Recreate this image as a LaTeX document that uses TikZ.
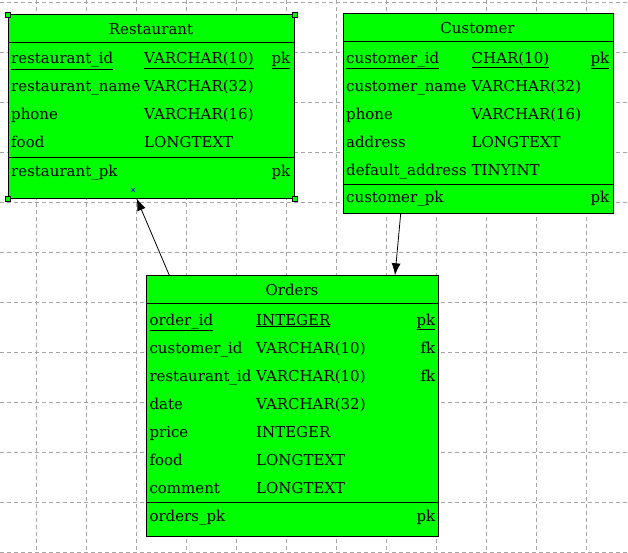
\documentclass[tikz,border=0pt]{standalone}
\usepackage{fontspec}
\setmainfont{DejaVu Serif}
\usetikzlibrary{arrows.meta}
\definecolor{boxgreen}{RGB}{0,255,0}
\definecolor{gridgray}{RGB}{165,165,165}

\begin{document}
\begin{tikzpicture}[x=1pt, y=-1pt,
    tbl/.style={draw, fill=boxgreen, line width=0.9pt, inner sep=0pt, anchor=north west},
    fld/.style={anchor=base west, inner sep=0pt, font=\fontsize{15}{17}\selectfont},
    key/.style={anchor=base east, inner sep=0pt, font=\fontsize{15}{17}\selectfont},
    ttl/.style={anchor=base, inner sep=0pt, font=\fontsize{15}{17}\selectfont},
    handle/.style={draw, fill=boxgreen, line width=0.6pt, minimum size=5pt, inner sep=0pt},
    rel/.style={line width=0.8pt, -{Latex[length=12pt, width=9pt]}}]
    \useasboundingbox (0,0) rectangle (628,553);
    \foreach \i in {0,...,11}
        \draw[gridgray, dash pattern=on 4pt off 3pt, line width=0.7pt] (36.5+50*\i, 0) -- (36.5+50*\i, 553);
    \foreach \i in {0,...,11}
        \draw[gridgray, dash pattern=on 4pt off 3pt, line width=0.7pt] (0, 2.5+50*\i) -- (628, 2.5+50*\i);

    % Restaurant
    \node[tbl, minimum width=285.5pt, minimum height=183.2pt] (restaurant) at (8, 14.5) {};
    \draw[line width=0.9pt] (8, 42.5) -- (293.5, 42.5) (8, 157.3) -- (293.5, 157.3);
    \node[ttl] (restaurant-title) at (151, 35) {Restaurant};
    \node[fld] (r-id) at (11, 64) {\underline{restaurant\_id}};
    \node[fld] (r-id-t) at (144, 64) {\underline{VARCHAR(10)}};
    \node[key] (r-id-k) at (290.5, 64) {\underline{pk}};
    \node[fld] (r-name) at (11, 92) {restaurant\_name};
    \node[fld] (r-name-t) at (144, 92) {VARCHAR(32)};
    \node[fld] (r-phone) at (11, 120) {phone};
    \node[fld] (r-phone-t) at (144, 120) {VARCHAR(16)};
    \node[fld] (r-food) at (11, 148) {food};
    \node[fld] (r-food-t) at (144, 148) {LONGTEXT};
    \node[fld] (r-pk) at (11, 177) {restaurant\_pk};
    \node[key] (r-pk-k) at (290.5, 177) {pk};
    \node[handle] (h-nw) at (restaurant.north west) {};
    \node[handle] (h-ne) at (restaurant.north east) {};
    \node[handle] (h-sw) at (restaurant.south west) {};
    \node[handle] (h-se) at (restaurant.south east) {};
    \draw[blue, line width=0.5pt] (131, 188) -- (135, 192) (131, 192) -- (135, 188);

    % Customer
    \node[tbl, minimum width=270pt, minimum height=199.2pt] (customer) at (342.5, 13.5) {};
    \draw[line width=0.9pt] (342.5, 41.5) -- (612.5, 41.5) (342.5, 184.3) -- (612.5, 184.3);
    \node[ttl] (customer-title) at (477.5, 33.5) {Customer};
    \node[fld] (c-id) at (346, 63.5) {\underline{customer\_id}};
    \node[fld] (c-id-t) at (471.5, 63.5) {\underline{CHAR(10)}};
    \node[key] (c-id-k) at (609.5, 63.5) {\underline{pk}};
    \node[fld] (c-name) at (346, 91.5) {customer\_name};
    \node[fld] (c-name-t) at (471.5, 91.5) {VARCHAR(32)};
    \node[fld] (c-phone) at (346, 119.5) {phone};
    \node[fld] (c-phone-t) at (471.5, 119.5) {VARCHAR(16)};
    \node[fld] (c-addr) at (346, 147.5) {address};
    \node[fld] (c-addr-t) at (471.5, 147.5) {LONGTEXT};
    \node[fld] (c-def) at (346, 175.5) {default\_address};
    \node[fld] (c-def-t) at (471.5, 175.5) {TINYINT};
    \node[fld] (c-pk) at (346, 203) {customer\_pk};
    \node[key] (c-pk-k) at (609.5, 203) {pk};

    % Orders
    \node[tbl, minimum width=292.8pt, minimum height=260.5pt] (orders) at (145.5, 275.3) {};
    \draw[line width=0.9pt] (145.5, 303.3) -- (438.3, 303.3) (145.5, 502.3) -- (438.3, 502.3);
    \node[ttl] (orders-title) at (292, 295) {Orders};
    \node[fld] (o-id) at (149.3, 325) {\underline{order\_id}};
    \node[fld] (o-id-t) at (256, 325) {\underline{INTEGER}};
    \node[key] (o-id-k) at (435.5, 325) {\underline{pk}};
    \node[fld] (o-cust) at (149.3, 353) {customer\_id};
    \node[fld] (o-cust-t) at (256, 353) {VARCHAR(10)};
    \node[key] (o-cust-k) at (435.5, 353) {fk};
    \node[fld] (o-rest) at (149.3, 381) {restaurant\_id};
    \node[fld] (o-rest-t) at (256, 381) {VARCHAR(10)};
    \node[key] (o-rest-k) at (435.5, 381) {fk};
    \node[fld] (o-date) at (149.3, 409) {date};
    \node[fld] (o-date-t) at (256, 409) {VARCHAR(32)};
    \node[fld] (o-price) at (149.3, 437) {price};
    \node[fld] (o-price-t) at (256, 437) {INTEGER};
    \node[fld] (o-food) at (149.3, 465) {food};
    \node[fld] (o-food-t) at (256, 465) {LONGTEXT};
    \node[fld] (o-comm) at (149.3, 493) {comment};
    \node[fld] (o-comm-t) at (256, 493) {LONGTEXT};
    \node[fld] (o-pk) at (149.3, 521.5) {orders\_pk};
    \node[key] (o-pk-k) at (435.5, 521.5) {pk};

    \draw[rel] ([xshift=23.8pt]orders.north west) -- ([xshift=128.7pt]restaurant.south west);
    \draw[rel] ([xshift=58.2pt]customer.south west) -- ([xshift=249.5pt]orders.north west);

\end{tikzpicture}
\end{document}
